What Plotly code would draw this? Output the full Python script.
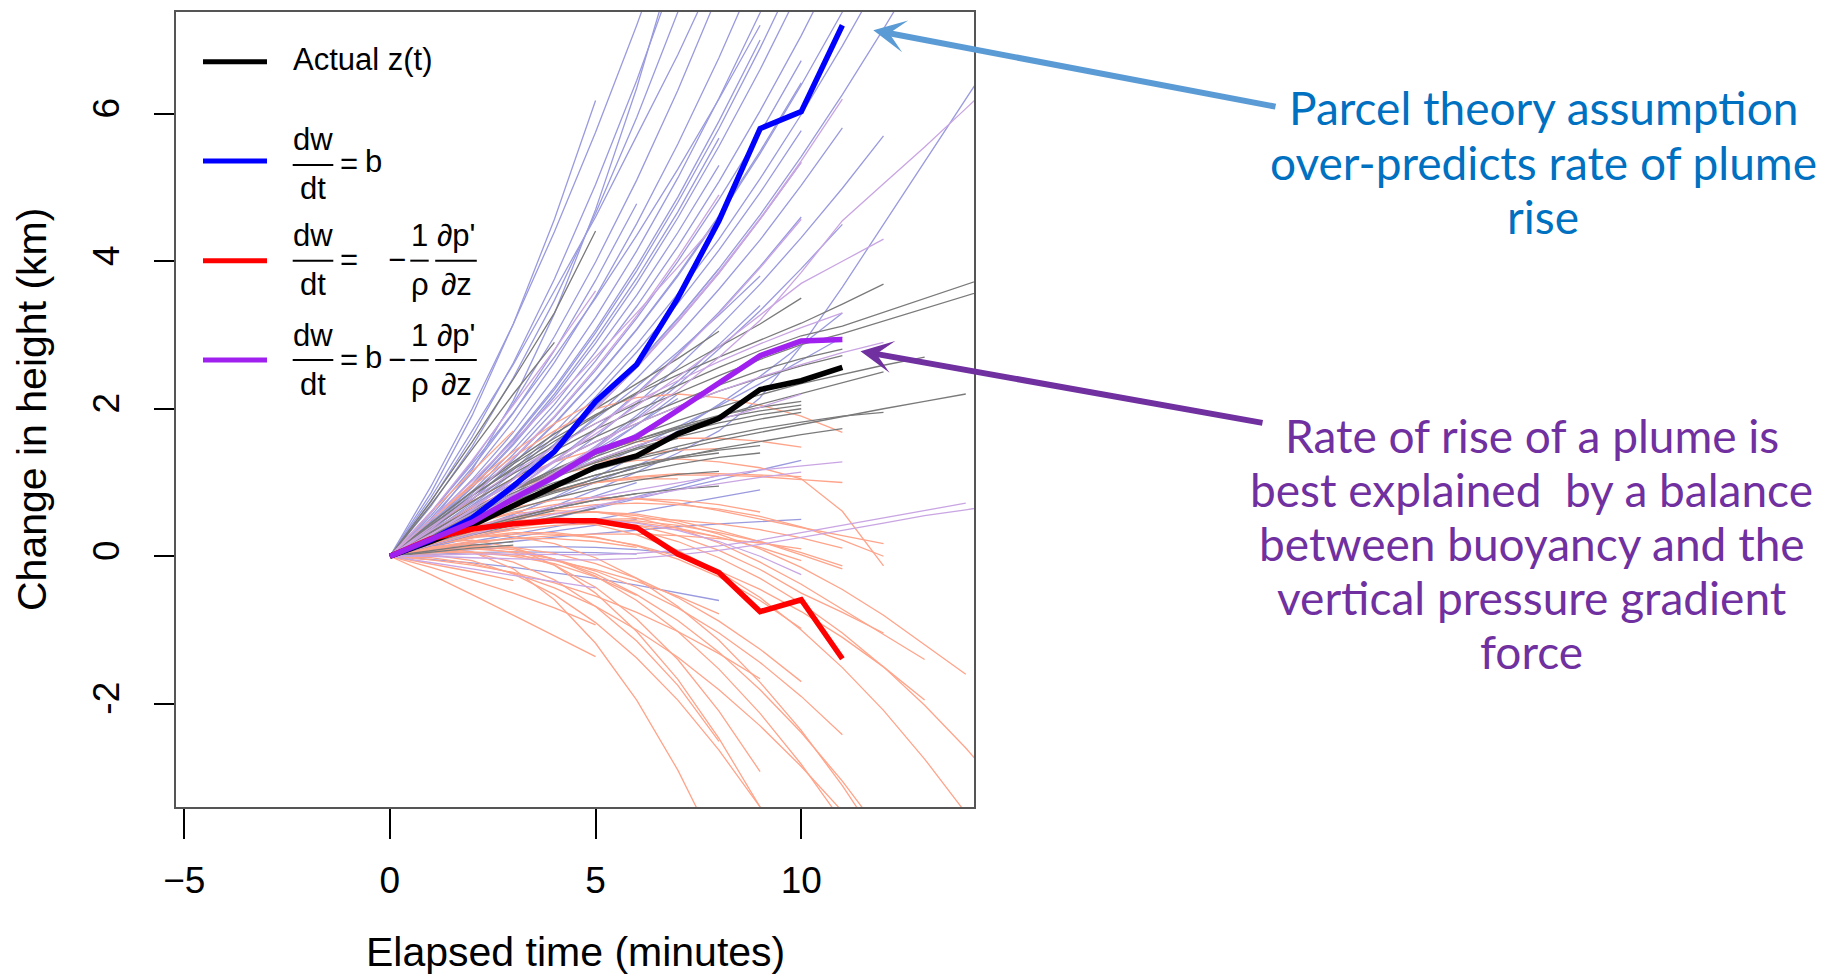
import plotly.graph_objects as go

# ---------------- data ----------------
# thick summary curves, one value per elapsed minute (0..11)
ACTUAL = [0, 0.20, 0.42, 0.68, 0.95, 1.21, 1.36, 1.66, 1.87, 2.26, 2.38, 2.56]
PARCEL = [0, 0.22, 0.52, 0.95, 1.42, 2.10, 2.60, 3.50, 4.55, 5.80, 6.03, 7.20]
PRESSURE = [0, 0.24, 0.37, 0.44, 0.48, 0.48, 0.39, 0.03, -0.22, -0.75, -0.59, -1.39]
BALANCE = [0, 0.22, 0.46, 0.78, 1.08, 1.42, 1.62, 1.98, 2.34, 2.72, 2.92, 2.94]

# individual plume runs (value per elapsed minute, starting at minute 0)
PARCEL_RUNS = [
    [0, .86, 1.91, 3.15, 4.57, 6.18],
    [0, .47, 1.17, 2.11, 3.29, 4.70, 6.35, 8.24],
    [0, .74, 1.62, 2.62, 3.76, 5.04, 6.45, 8.0],
    [0, .95, 2.0, 3.15, 4.4, 5.75, 7.2, 8.75],
    [0, .68, 1.49, 2.42, 3.47, 4.65, 5.95, 7.38, 8.93],
    [0, .55, 1.2, 1.94, 2.79, 3.74, 4.78],
    [0, .585, 1.28, 2.07, 2.98, 3.99, 5.1, 6.32, 7.65],
    [0, .516, 1.13, 1.83, 2.63, 3.52, 4.51, 5.59, 6.76, 8.03],
    [0, .43, .94, 1.53, 2.2, 2.95, 3.77, 4.67, 5.67],
    [0, .405, .88, 1.44, 2.06, 2.77, 3.54, 4.39, 5.3],
    [0, .475, 1.04, 1.68, 2.42, 3.24, 4.14, 5.13, 6.21, 7.37, 8.62],
    [0, .45, .98, 1.6, 2.29, 3.07, 3.93, 4.87, 5.9, 7.0],
    [0, .445, .97, 1.58, 2.26, 3.03, 3.87, 4.8, 5.8, 6.89, 8.05],
    [0, .425, .93, 1.51, 2.16, 2.89, 3.7, 4.59, 5.56, 6.6, 7.72],
    [0, .388, .85, 1.38, 1.98, 2.65, 3.39, 4.2, 5.08, 6.04, 7.06, 8.16],
    [0, .37, .81, 1.31, 1.88, 2.52, 3.23, 4.0, 4.84, 5.74, 6.72],
    [0, .353, .77, 1.25, 1.8, 2.41, 3.08, 3.82, 4.62, 5.49, 6.42],
    [0, .351, .77, 1.25, 1.79, 2.4, 3.07, 3.8, 4.6, 5.46, 6.39, 7.38, 8.44],
    [0, .317, .69, 1.13, 1.62, 2.16, 2.77, 3.43, 4.15, 4.93, 5.77],
    [0, .329, .72, 1.17, 1.68, 2.25, 2.87, 3.56, 4.3, 5.12, 5.99, 6.92, 7.91],
    [0, .294, .64, 1.04, 1.5, 2.0, 2.56, 3.18, 3.84, 4.57, 5.34],
    [0, .3, .65, 1.06, 1.52, 2.04, 2.6, 3.23, 3.9, 4.63, 5.42, 6.26, 7.15, 8.08],
    [0, .277, .6, .98, 1.41, 1.89, 2.41, 2.99, 3.62, 4.29, 5.03, 5.81],
    [0, .3, .65, 1.06, 1.52, 2.03, 2.6, 3.22, 3.9],
    [0, .253, .55, .9, 1.29, 1.73, 2.21, 2.74, 3.31, 3.93, 4.6],
    [0, .238, .52, .84, 1.21, 1.62, 2.07, 2.57, 3.11, 3.69, 4.32, 4.99, 5.7],
    [0, .215, .47, .76, 1.09, 1.46, 1.87, 2.32, 2.81, 3.33, 3.9, 4.5],
    [0, .219, .48, .78, 1.11, 1.49, 1.91, 2.37, 2.87, 3.4],
    [0, .14, .3, .48, .68, .9, 1.14, 1.4, 1.7, 2.15, 2.85, 3.65, 4.5, 5.35, 6.2, 7.05],
    [0, .157, .34, .56, .8, 1.07, 1.37, 1.7, 2.06, 2.44, 2.86, 3.3],
    [0, .2, .44, .72, 1.04, 1.39, 1.78, 2.2],
    [0, .13, .26, .39, .52, .65, .78, .91, 1.04, 1.17, 1.3],
    [0, .09, .18, .26, .34, .42, .5],
    [0, .1, .2, .3, .4, .5, .6, .7, .8, .9],
    [0, .18, .37, .57, .78, 1.0, 1.23, 1.47],
    [0, .24, .5, .77, 1.05, 1.35, 1.66, 1.98, 2.32, 2.68],
    [0, .05, .09, .12, .13, .12, .09, .04],
    [0, .6, 1.25, 1.95, 2.7, 3.5, 4.35, 5.25, 6.2, 7.2],
    [0, .8, 1.7, 2.6, 3.6, 4.6, 5.7, 6.8, 8.0],
    [0, .12, .25, .38, .52, .66, .8, .95, 1.1],
    [0, .15, .31, .47, .64, .82, 1.0],
    [0, .22, .45, .69, .94, 1.2, 1.47, 1.75, 2.04, 2.34, 2.65, 2.97],
    [0, .26, .53, .82, 1.12, 1.44, 1.78, 2.14],
    [0, .07, .14, .2, .26, .31, .36, .4, .44, .47, .5],
    [0, .03, .05, .06, .06, .05, .03],
    [0, -.04, -.09, -.15, -.22, -.3, -.39, -.49, -.6],
    [0, .33, .68, 1.05, 1.44, 1.86, 2.3, 2.77, 3.27, 3.8],
]

PRESSURE_RUNS = [
    [0, .5, .95, 1.35, 1.7, 2.0, 2.15, 2.2, 2.15, 2.05, 1.9, 1.68],
    [0, .6, 1.15, 1.7],
    [0, .5, .98, 1.42, 1.8, 2.1],
    [0, .35, .65, .9, 1.1, 1.22, 1.3, 1.32, 1.28, 1.2, 1.05, .61, -.13],
    [0, .3, .55, .75, .9, 1.0, 1.07, 1.1, 1.1, 1.08, 1.04, 1.0],
    [0, .28, .5, .66, .76, .8, .78, .72, .62, .5, .39, .28, .17],
    [0, .25, .45, .58, .62, .6, .52, .38, .18, -.08, -.38, -.72, -1.05, -1.4],
    [0, .2, .37, .5, .58, .6, .57, .48, .35, .2, .02, -.17],
    [0, .22, .38, .48, .52, .5, .42, .28, .08, -.18, -.5, -.76, -1.04],
    [0, .15, .26, .32, .32, .26, .14, -.04, -.28, -.6, -.98],
    [0, .1, .12, .05, -.12, -.42, -.85, -1.4, -2.1, -2.92],
    [0, .08, .05, -.08, -.32, -.68, -1.15, -1.75, -2.51],
    [0, .12, .06, -.17, -.59, -1.18, -1.95, -2.9, -4.02],
    [0, .18, .22, .12, -.12, -.5, -1.02, -1.67, -2.47, -3.4, -4.47],
    [0, .02, -.06, -.24, -.52, -.9, -1.38, -1.95, -2.63, -3.4, -4.27],
    [0, .13, .16, .11, -.04, -.27, -.6, -1.02, -1.53, -2.13, -2.82, -3.6],
    [0, -.02, -.1, -.23, -.43, -.68, -1.0, -1.37, -1.81, -2.3, -2.85, -3.46],
    [0, .18, .27, .27, .17, -.02, -.3, -.68, -1.14, -1.71, -2.36, -3.11, -3.95],
    [0, .1, .13, .09, -.04, -.24, -.52, -.87, -1.3, -1.81, -2.39, -3.05, -3.79],
    [0, .23, .39, .48, .49, .43, .29, .08, -.21, -.56, -1.0, -1.51, -2.09, -2.75, -3.48],
    [0, -.15, -.32, -.5, -.7, -.93],
    [0, -.1, -.21, -.33],
    [0, .05, .05, 0, -.1, -.28, -.53],
    [0, .2, .35, .45, .5, .5, .46, .38, .26],
    [0, .15, .27, .36, .42, .44, .42, .36, .26, .12, -.06],
    [0, .18, .32, .42, .48, .5, .48, .42, .32, .2, .05, -.13],
    [0, .12, .2, .24, .24, .2, .12],
    [0, .25, .45, .6, .7, .76, .78, .76, .7, .6],
    [0, .3, .55, .75, .9, 1.0, 1.05, 1.05],
    [0, .28, .52, .72, .88, 1.0, 1.08, 1.12, 1.12, 1.1, 1.08],
    [0, .1, .14, .12, .04, -.1, -.3, -.56, -.88, -1.26, -1.7],
    [0, .08, .1, .06, -.04, -.2, -.42, -.7, -1.04, -1.44, -1.9, -2.42],
    [0, .15, .25, .3, .3, .25, .15, 0, -.2, -.45, -.75, -1.1, -1.5, -1.95],
    [0, .05, .06, .02, -.06, -.18, -.34, -.54, -.78],
    [0, -.05, -.12, -.22, -.36, -.54, -.76, -1.02, -1.32, -1.66],
    [0, -.25, -.52, -.8, -1.08, -1.36],
    [0, .22, .4, .52, .58, .6, .55, .45, .3, .1, -.15, -.45, -.8, -1.2, -1.6],
    [0, .2, .36, .46, .5, .46, .36, .2, -.02, -.3, -.64, -1.04, -1.5, -2.02, -2.6, -3.24],
    [0, .35, .66, .92, 1.12, 1.27, 1.38, 1.44, 1.46],
    [0, .4, .75, 1.05, 1.28, 1.45, 1.55, 1.6, 1.6, 1.56, 1.48],
    [0, .22, .4, .54, .64, .7, .72, .7, .64, .54, .4, .22, 0],
    [0, .1, .18, .24, .28, .3, .3, .28, .24, .18, .1],
    [0, .16, .29, .39, .46, .5, .51, .49, .44, .36, .25, .11],
]

ACTUAL_RUNS = [
    [0, .75, 1.55, 2.4, 3.3, 4.41],
    [0, .7, 1.45, 2.2, 2.9],
    [0, .42, .82, 1.18, 1.5, 1.8, 2.07, 2.32, 2.56, 2.79, 2.99, 3.12, 3.31, 3.5, 3.68, 3.87],
    [0, .4, .78, 1.12, 1.43, 1.72, 1.98, 2.22, 2.45, 2.67, 2.87, 3.02, 3.19, 3.36, 3.53, 3.7],
    [0, .45, .87, 1.25, 1.6, 1.92, 2.2, 2.46, 2.7, 2.93, 3.16, 3.42, 3.69],
    [0, .32, .62, .89, 1.13, 1.35, 1.55, 1.73, 1.9, 2.06, 2.21, 2.36, 2.5],
    [0, .33, .64, .92, 1.18, 1.42, 1.64, 1.84, 2.02, 2.19, 2.34, 2.47, 2.59, 2.7],
    [0, .3, .57, .8, 1.0, 1.17, 1.32, 1.45, 1.57, 1.68, 1.79, 1.9, 2.0, 2.1, 2.2],
    [0, .38, .74, 1.06, 1.35, 1.62, 1.87, 2.1, 2.32, 2.52, 2.68, 2.81],
    [0, .35, .68, .99, 1.28, 1.55, 1.8, 2.03, 2.24, 2.42, 2.58, 2.72],
    [0, .25, .48, .69, .88, 1.05, 1.2, 1.34, 1.46, 1.56, 1.65, 1.73],
    [0, .28, .54, .77, .98, 1.17, 1.34, 1.49, 1.62, 1.73, 1.82, 1.9, 1.95],
    [0, .32, .62, .9, 1.15, 1.38, 1.58, 1.76, 1.91, 2.02, 2.1],
    [0, .33, .64, .92, 1.17, 1.39, 1.58, 1.74, 1.87, 1.97, 2.05],
    [0, .3, .58, .84, 1.08, 1.3, 1.5, 1.67, 1.81, 1.92, 2.0],
    [0, .31, .6, .86, 1.09, 1.29, 1.47, 1.62, 1.75, 1.86, 1.95],
    [0, .27, .52, .74, .93, 1.1, 1.24, 1.35, 1.44, 1.5],
    [0, .25, .48, .68, .86, 1.01, 1.14, 1.25, 1.34, 1.4],
    [0, .28, .53, .75, .94, 1.1, 1.23, 1.33, 1.4],
    [0, .24, .45, .63, .79, .92, 1.03, 1.11, 1.15],
    [0, .2, .37, .52, .65, .76, .85, .91, .95],
    [0, .2, .37, .52, .65, .76, .85],
    [0, .3, .58, .84, 1.07, 1.27, 1.45, 1.6],
    [0, .08, .15, .2],
    [0, .06, .11, .15],
    [0, .26, .5, .71, .89, 1.05, 1.2],
    [0, .45, .88, 1.28, 1.66, 2.0, 2.34, 2.68, 3.05],
    [0, .42, .82, 1.2, 1.56, 1.9, 2.22, 2.53, 2.83, 3.15, 3.5],
    [0, .15, .29, .42, .54, .65],
    [0, .18, .34, .49, .62],
]

BALANCE_RUNS = [
    [0, .25, .52, .82, 1.14, 1.48, 1.85, 2.25, 2.7, 3.2, 3.85, 4.55, 5.05, 5.55, 6.07, 6.6],
    [0, .3, .62, .95, 1.3, 1.66, 2.04, 2.43, 2.84, 3.27, 3.7, 4.0, 4.3],
    [0, .29, .64, 1.04, 1.5, 2.01, 2.57, 3.19, 3.86, 4.58, 5.36, 6.2],
    [0, .25, .55, .89, 1.28, 1.71, 2.19, 2.72, 3.29, 3.91, 4.57],
    [0, .02, .03, .03, .02, .02, .04, .08, .14, .22, .32, .42, .52, .62, .72],
    [0, 0, -.02, -.04, -.05, -.05, -.03, .02, .08, .16, .25, .35, .45, .55, .63, .72],
    [0, -.08, -.17, -.26, -.34, -.43],
    [0, .2, .35, .45, .5, .5, .45, .35, .2, 0, -.25],
    [0, .4, .78, 1.14, 1.48, 1.8, 2.1, 2.38, 2.64, 2.88, 3.1, 3.3],
    [0, .35, .68, .99, 1.28, 1.55, 1.8, 2.03, 2.24, 2.43, 2.6, 2.76, 2.9],
    [0, .3, .58, .84, 1.08, 1.3, 1.5, 1.68, 1.85, 2.02, 2.2],
    [0, .2, .38, .54, .68, .8, .9, 1.0, 1.09, 1.17, 1.23, 1.28],
    [0, .374, .816, 1.33, 1.9, 2.55, 3.26, 4.05, 4.9],
    [0, .294, .64, 1.04, 1.5, 2.0, 2.56, 3.18, 3.84, 4.57, 5.34],
    [0, .6, 1.3, 2.05, 2.8, 3.6],
    [0, .5, 1.02, 1.56, 2.12, 2.7, 3.3, 3.92, 4.56],
    [0, .15, .3, .44, .57, .69, .8, .9, .99, 1.07, 1.14],
]

X_TICKS = [-5, 0, 5, 10]
X_TICK_TEXT = ["\u22125", "0", "5", "10"]
Y_TICKS = [-2, 0, 2, 4, 6]
Y_TICK_TEXT = ["-2", "0", "2", "4", "6"]

X_TITLE = "Elapsed time (minutes)"
Y_TITLE = "Change in height (km)"
NOTE_BLUE = ["Parcel theory assumption", "over-predicts rate of plume", "rise"]
NOTE_PURPLE = ["Rate of rise of a plume is", "best explained  by a balance",
               "between buoyancy and the", "vertical pressure gradient", "force"]

# ---------------- styling / layout ----------------
W, H = 1839, 977
ML, MR, MT, MB = 176, 865, 10, 170
PW, PH = W - ML - MR, H - MT - MB

C_PARCEL_THIN = "#9A9ADF"
C_PRESS_THIN = "#FFA48A"
C_ACTUAL_THIN = "#7A7A7A"
C_BAL_THIN = "#C9A5E3"
C_BLUE, C_RED, C_BLACK, C_PURPLE = "#0000FF", "#FF0000", "#000000", "#A020F0"

AXIS_FONT = "Liberation Sans, Arial, Helvetica, sans-serif"
NOTE_FONT = "Lato, Open Sans, sans-serif"


def P(x, y):
    """page pixel -> paper coordinates"""
    return (x - ML) / PW, (H - MB - y) / PH


fig = go.Figure()


def add_runs(runs, color, width):
    for run in runs:
        fig.add_trace(go.Scatter(x=list(range(len(run))), y=run, mode="lines",
                                 line=dict(color=color, width=width),
                                 hoverinfo="skip", showlegend=False))


add_runs(PARCEL_RUNS, C_PARCEL_THIN, 1.3)
add_runs(PRESSURE_RUNS, C_PRESS_THIN, 1.3)
add_runs(ACTUAL_RUNS, C_ACTUAL_THIN, 1.3)
add_runs(BALANCE_RUNS, C_BAL_THIN, 1.3)

for series, col in [(ACTUAL, C_BLACK), (PARCEL, C_BLUE), (PRESSURE, C_RED), (BALANCE, C_PURPLE)]:
    fig.add_trace(go.Scatter(x=list(range(len(series))), y=series, mode="lines",
                             line=dict(color=col, width=5.5), hoverinfo="skip",
                             showlegend=False))

fig.update_layout(
    width=W, height=H, autosize=False,
    margin=dict(l=ML, r=MR, t=MT, b=MB, pad=0),
    plot_bgcolor="white", paper_bgcolor="white", showlegend=False,
    font=dict(family=AXIS_FONT, color="black"),
)
fig.update_xaxes(range=[-5.2, 14.2], tickvals=X_TICKS, ticktext=X_TICK_TEXT,
                 ticks="outside", ticklen=30, tickwidth=1.5, tickcolor="black",
                 showline=True, mirror=True, linecolor="#555555", linewidth=1.5,
                 showgrid=False, zeroline=False, tickfont=dict(size=37),
                 ticklabelstandoff=10)
fig.update_yaxes(range=[-3.4, 7.38], tickvals=Y_TICKS, ticktext=Y_TICK_TEXT,
                 ticks="outside", ticklen=20, tickwidth=1.5, tickcolor="black",
                 showline=True, mirror=True, linecolor="#555555", linewidth=1.5,
                 showgrid=False, zeroline=False, tickfont=dict(size=37),
                 tickangle=-90, ticklabelstandoff=20)

ann = []
shapes = []


def text(x, y, s, size, color="black", family=AXIS_FONT, xanchor="center", angle=0):
    px_, py_ = P(x, y)
    ann.append(dict(x=px_, y=py_, xref="paper", yref="paper", text=s, showarrow=False,
                    xanchor=xanchor, yanchor="middle", textangle=angle,
                    font=dict(size=size, color=color, family=family)))


def hline(x0, x1, y, color, width):
    a0, b0 = P(x0, y)
    a1, _ = P(x1, y)
    shapes.append(dict(type="line", xref="paper", yref="paper", x0=a0, x1=a1, y0=b0, y1=b0,
                       line=dict(color=color, width=width)))


# axis titles
text(575, 952, X_TITLE, 41)
text(32, 409, Y_TITLE, 41, angle=-90)

# legend (drawn by hand because of the stacked fractions)
LF = 31
for yy, col in [(60, C_BLACK), (159.5, C_BLUE), (259.3, C_RED), (359, C_PURPLE)]:
    hline(203, 267, yy, col, 5)
text(291, 58, "Actual z(t)", LF, xanchor="left")


def frac(cx, half, bar_y, num, den):
    hline(cx - half, cx + half, bar_y, "black", 2)
    text(cx, bar_y - 25, num, LF)
    text(cx, bar_y + 24, den, LF)


for bar_y, has_b, has_p in [(163.3, True, False), (259.3, False, True), (359, True, True)]:
    frac(313, 20.3, bar_y, "dw", "dt")
    text(348.5, bar_y - 1, "=", LF)
    if has_b:
        text(373, bar_y - 3, "b", LF)
    if has_p:
        text(396.5, bar_y - 1, "\u2212", LF)
        frac(419.5, 9.2, bar_y, "1", "\u03c1")
        frac(456, 20.8, bar_y, "\u2202p'", "\u2202z")

# callout texts
for i, line in enumerate(NOTE_BLUE):
    text(1543, 106 + 54.5 * i, line, 46, color="#0070C0", family=NOTE_FONT)
for i, line in enumerate(NOTE_PURPLE):
    text(1531.5, 435 + 54 * i, line, 46, color="#7030A0", family=NOTE_FONT)

# callout arrows
for (hx, hy), (tx, ty), col in [((873.3, 28.3), (1277, 105), "#5B9BD5"),
                                 ((860.5, 350), (1264, 422), "#7030A0")]:
    ax_, ay_ = P(hx, hy)
    ann.append(dict(x=ax_, y=ay_, xref="paper", yref="paper", text="", showarrow=True,
                    ax=tx - hx, ay=ty - hy, axref="pixel", ayref="pixel",
                    arrowhead=3, arrowsize=0.9, arrowwidth=6, arrowcolor=col,
                    standoff=0, startstandoff=0))

fig.update_layout(annotations=ann, shapes=shapes)
fig.write_html("out.html", config={"displayModeBar": False},
               post_script="document.body.style.margin='0px';document.body.style.overflow='hidden';")
